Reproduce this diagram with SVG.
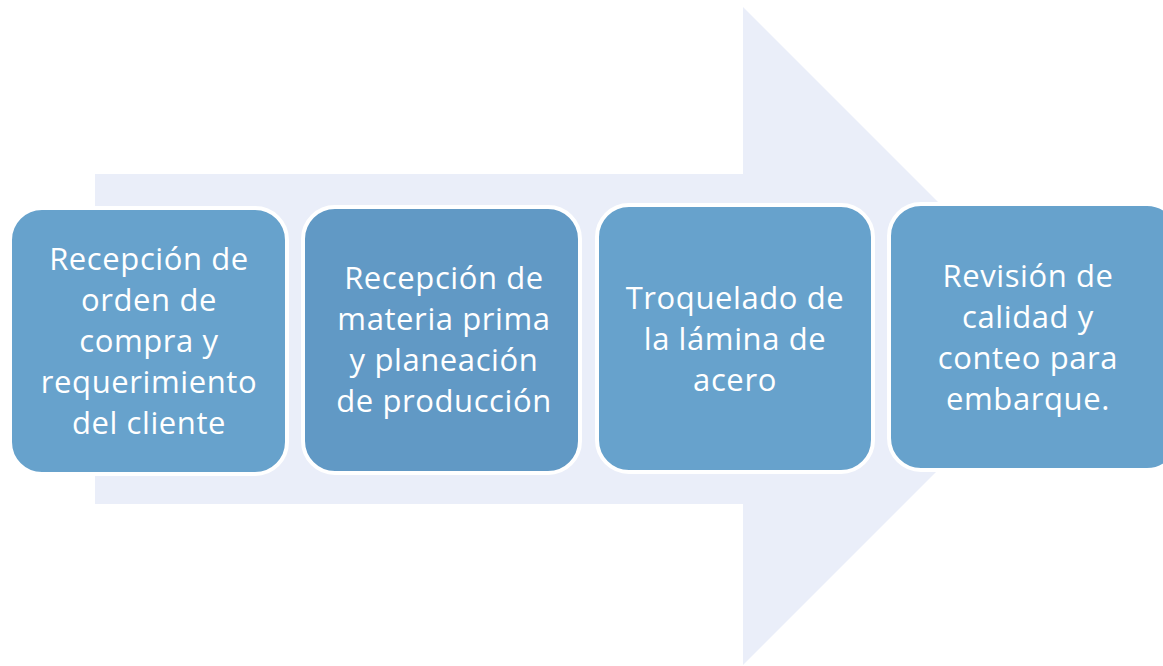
<svg xmlns="http://www.w3.org/2000/svg" width="1163" height="666" viewBox="0 0 1163 666">
<style>
.box{fill:#67a2cc;stroke:#ffffff;stroke-width:4}
.b2{fill:#6199c5}
.t{font-family:"Open Sans","Liberation Sans",sans-serif;font-size:31px;letter-spacing:0.6px;fill:#ffffff;text-anchor:middle}
</style>
<rect width="1163" height="666" fill="#ffffff"/>
<g id="arrow">
<polygon points="95,174 743,174 743,7 1072,336 743,665 743,504 95,504" fill="#eaeef9"/>
</g>
<g id="connectors"></g>
<g id="n1">
<rect class="box" x="10" y="208" width="277" height="266" rx="32"/>
<text class="t" x="149" y="270">Recepción de</text>
<text class="t" x="149" y="311">orden de</text>
<text class="t" x="149" y="352">compra y</text>
<text class="t" x="149" y="393">requerimiento</text>
<text class="t" x="149" y="434">del cliente</text>
</g>
<g id="n2">
<rect class="box b2" x="303" y="207" width="277" height="266" rx="32"/>
<text class="t" x="444" y="289">Recepción de</text>
<text class="t" x="444" y="330">materia prima</text>
<text class="t" x="444" y="371">y planeación</text>
<text class="t" x="444" y="412">de producción</text>
</g>
<g id="n3">
<rect class="box" x="597" y="205" width="276" height="267" rx="32"/>
<text class="t" x="735" y="309">Troquelado de</text>
<text class="t" x="735" y="350">la lámina de</text>
<text class="t" x="735" y="391">acero</text>
</g>
<g id="n4">
<rect class="box" x="889" y="204" width="290" height="266" rx="32"/>
<text class="t" x="1028" y="287">Revisión de</text>
<text class="t" x="1028" y="328">calidad y</text>
<text class="t" x="1028" y="369">conteo para</text>
<text class="t" x="1028" y="410">embarque.</text>
</g>
</svg>
